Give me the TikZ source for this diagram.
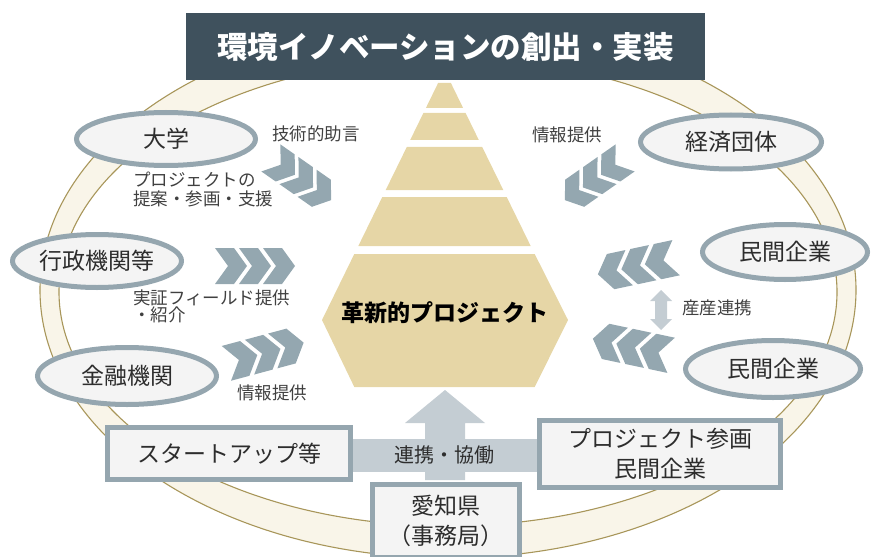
\documentclass[tikz,border=0pt]{standalone}
\usepackage{fontspec}
\setmainfont{Noto Sans CJK JP}
\usetikzlibrary{shapes.geometric}
\definecolor{ringfill}{RGB}{249,245,233}
\definecolor{ringline}{RGB}{168,150,90}
\definecolor{titlebg}{RGB}{63,81,93}
\definecolor{bluegray}{RGB}{149,166,175}
\definecolor{boxfill}{RGB}{244,244,244}
\definecolor{chevcol}{RGB}{148,167,176}
\definecolor{pyr}{RGB}{230,214,166}
\definecolor{lightarrow}{RGB}{196,205,211}
\definecolor{txt}{RGB}{45,45,45}
\definecolor{labtxt}{RGB}{64,64,64}
\newcommand\chevgroup[4]{%
  \begin{scope}[shift={(#1,#2)}, rotate=#3, scale=#4]
    \foreach \i in {0,1,2} {
      \fill[chevcol] ({-40+24*\i},-18) -- ++(19,0) -- ++(13,18) -- ++(-13,18) -- ++(-19,0) -- ++(13,-18) -- cycle;
    }
  \end{scope}}
\begin{document}
\begin{tikzpicture}[x=1pt,y=-1pt,
  oval/.style={ellipse, draw=bluegray, line width=5pt, fill=boxfill, inner sep=0pt, text=txt, font=\fontsize{23}{28}\selectfont},
  sqbox/.style={rectangle, draw=bluegray, line width=5pt, fill=boxfill, inner sep=0pt, text=txt, align=center, font=\fontsize{23}{30}\selectfont},
  lab/.style={inner sep=0pt, text=labtxt, font=\fontsize{17.5}{19}\selectfont},
  ringedge/.style={draw=ringline, line width=1.1pt}]
\useasboundingbox (0,0) rectangle (874,556);
% ring
\fill[ringfill, even odd rule] (448,290) ellipse [x radius=408, y radius=268] (448,292) ellipse [x radius=389, y radius=234];
\draw[ringedge] (448,290) ellipse [x radius=408, y radius=268];
\draw[ringedge] (448,292) ellipse [x radius=389, y radius=234];
% title
\node[fill=titlebg, minimum width=519, minimum height=67, inner sep=0pt, text=white, font=\bfseries\fontsize{30.5}{34}\selectfont] (title) at (445.5,46.5) {環境イノベーションの創出・実装};
% pyramid
\fill[pyr] (438.1,83) -- (450.9,83) -- (463.1,108) -- (425.9,108) -- cycle;
\fill[pyr] (423.4,113) -- (465.6,113) -- (478.8,140) -- (410.2,140) -- cycle;
\fill[pyr] (406.8,147) -- (482.2,147) -- (503.3,190) -- (385.7,190) -- cycle;
\fill[pyr] (382.3,197) -- (506.7,197) -- (530.7,246) -- (358.3,246) -- cycle;
\fill[pyr] (354.3,254) -- (534.7,254) -- (568,320) -- (534.7,387) -- (354.3,387) -- (322,320) -- cycle;
\node[inner sep=0pt, font=\bfseries\fontsize{23}{28}\selectfont, text=black] (core) at (445,313) {革新的プロジェクト};
% light arrows
\fill[lightarrow] (350,439) rectangle (540,472);
\fill[lightarrow] (425,480) -- (425,423) -- (405,423) -- (445,390) -- (485,423) -- (465,423) -- (465,480) -- cycle;
% chevrons
\chevgroup{301}{179}{-35}{0.92}
\chevgroup{255}{266}{0}{1}
\chevgroup{265}{353}{15}{1}
\chevgroup{595}{179}{-145}{0.92}
\chevgroup{637}{266}{-168}{1}
\chevgroup{632}{347}{-192}{1}
% double arrow
\fill[lightarrow] (655,301) -- (650,301) -- (661,290) -- (672,301) -- (667,301) -- (667,319) -- (672,319) -- (661,330) -- (650,319) -- (655,319) -- cycle;
% ovals
\node[oval, minimum width=179, minimum height=53] (univ) at (166,139) {大学};
\node[oval, minimum width=169, minimum height=53] (gov) at (97,261) {行政機関等};
\node[oval, minimum width=179, minimum height=57] (fin) at (127,376) {金融機関};
\node[oval, minimum width=181, minimum height=54] (econ) at (731,142) {経済団体};
\node[oval, minimum width=165, minimum height=55] (priv1) at (785,252) {民間企業};
\node[oval, minimum width=175, minimum height=57] (priv2) at (773,369) {民間企業};
% boxes
\node[sqbox, minimum width=243, minimum height=52] (startup) at (229,453.5) {スタートアップ等};
\node[sqbox, minimum width=241, minimum height=67] (partner) at (660,454) {プロジェクト参画\\民間企業};
\node[sqbox, minimum width=147, minimum height=73] (aichi) at (446,521) {愛知県\\（事務局）};
\node[inner sep=0pt, text=txt, font=\fontsize{20}{24}\selectfont] (collab) at (444,455) {連携・協働};
% labels
\node[lab] (l1) at (316,134) {技術的助言};
\node[lab, align=left, anchor=west] (l2) at (133,189) {プロジェクトの\\提案・参画・支援};
\node[lab, align=left, anchor=west, font=\fontsize{17.5}{16}\selectfont] (l3) at (133,306) {実証フィールド提供\\・紹介};
\node[lab] (l4) at (272,393) {情報提供};
\node[lab] (l5) at (567,135) {情報提供};
\node[lab] (l6) at (717,308) {産産連携};
\end{tikzpicture}
\end{document}
